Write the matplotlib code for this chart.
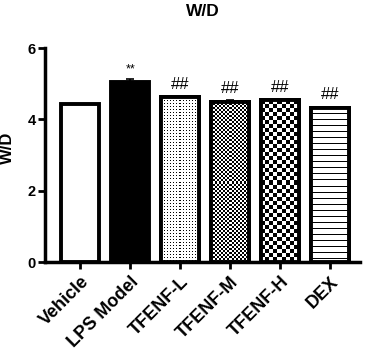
import numpy as np
import matplotlib
matplotlib.use('Agg')
import matplotlib.pyplot as plt

# W/D ratio per group
groups = ['Vehicle', 'LPS Model', 'TFENF-L', 'TFENF-M', 'TFENF-H', 'DEX']
wd_mean = [4.42, 5.04, 4.62, 4.50, 4.53, 4.33]
wd_err = [0.02, 0.08, 0.03, 0.03, 0.04, 0.03]
marks = ['', '**', '##', '##', '##', '##']

plt.rcParams['font.family'] = ['Liberation Sans', 'DejaVu Sans']
plt.rcParams['font.weight'] = 'bold'

W, H, DPI = 367, 361, 100
fig = plt.figure(figsize=(W / DPI, H / DPI), dpi=DPI)
ax = fig.add_axes([0.123, 0.274, 0.858, 0.593])
ax.set_xlim(-0.7, 5.6)
ax.set_ylim(0, 6)

x = np.arange(len(groups))
bars = ax.bar(x, wd_mean, width=0.75, facecolor='white', edgecolor='black',
              linewidth=2.8, zorder=3)
bars[1].set_facecolor('black')
ax.errorbar(x, wd_mean, yerr=[[0] * len(x), wd_err], fmt='none', ecolor='black',
            elinewidth=1.2, capsize=3, capthick=1.2, zorder=2)


def texture(kind, h, w):
    yy, xx = np.mgrid[0:h, 0:w]
    img = np.ones((h, w))
    if kind == 'dots':
        img[(yy % 3 == 0) & (xx % 3 == 0)] = 0
    elif kind == 'fine':
        img[((yy // 2) + (xx // 2)) % 2 == 0] = 0
    elif kind == 'coarse':
        img[((yy // 4) + (xx // 4)) % 2 == 0] = 0
    elif kind == 'lines':
        img[yy % 6 == 0] = 0
    return img


fills = {2: 'dots', 3: 'fine', 4: 'coarse', 5: 'lines'}
fig.canvas.draw()
for i, kind in fills.items():
    b = bars[i]
    x0, y0 = b.get_x(), b.get_y()
    x1, y1 = x0 + b.get_width(), y0 + b.get_height()
    p0 = ax.transData.transform((x0, y0))
    p1 = ax.transData.transform((x1, y1))
    pw, ph = int(abs(p1[0] - p0[0])), int(abs(p1[1] - p0[1]))
    im = ax.imshow(texture(kind, ph, pw), cmap='gray', vmin=0, vmax=1,
                   extent=(x0, x1, y0, y1), origin='upper',
                   interpolation='nearest', aspect='auto', zorder=3.5)
    im.set_clip_path(b)
    # redraw edge over the texture
    ax.bar(x[i], wd_mean[i], width=0.75, facecolor='none', edgecolor='black',
           linewidth=2.8, zorder=4)

for i, m in enumerate(marks):
    if m:
        ax.annotate(m, (x[i], wd_mean[i] + wd_err[i]), xytext=(0, 3),
                    textcoords='offset points', ha='center', va='bottom',
                    fontsize=12 if m == '##' else 9, fontweight='normal')

ax.set_yticks([0, 2, 4, 6])
ax.set_xticks(x)
ax.set_xticklabels(groups, rotation=45, ha='right', rotation_mode='anchor',
                   fontsize=13, fontweight='bold')
ax.tick_params(axis='y', labelsize=10.5, width=2, length=5, pad=1.5)
ax.tick_params(axis='x', width=2, length=5, pad=3)
for s in ['top', 'right']:
    ax.spines[s].set_visible(False)
for s in ['left', 'bottom']:
    ax.spines[s].set_linewidth(2.5)
ax.set_ylabel('W/D', fontsize=12, fontweight='bold')
ax.yaxis.set_label_coords(-0.095, 0.533)
ax.set_title('W/D', fontsize=12.5, fontweight='bold', pad=23)

fig.savefig('out.png', dpi=DPI)
